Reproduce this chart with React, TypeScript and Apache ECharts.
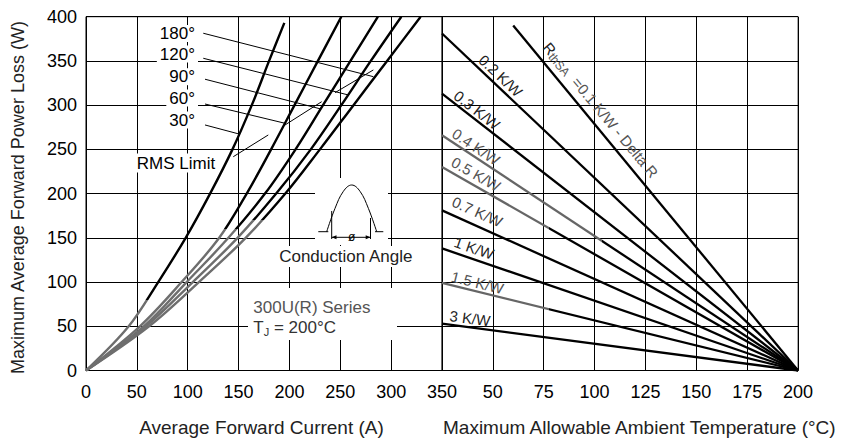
import React, { useEffect, useRef } from 'react';
import * as echarts from 'echarts';

// ---- Data ----
const currentTicks = [0, 50, 100, 150, 200, 250, 300, 350];
const tempTicks = [25, 50, 75, 100, 125, 150, 175, 200];
const powerTicks = [0, 50, 100, 150, 200, 250, 300, 350, 400];

const angleNames = ['30°', '60°', '90°', '120°', '180°'];
// [current (A), power (W)]
const curve30 = [[0, 0], [42, 50], [71, 100], [98, 150], [122, 200], [144, 250], [163, 300], [180, 350], [195, 393]];
const curve60 = [[0, 0], [53, 50], [94, 100], [131, 150], [158, 200], [182, 250], [205, 300], [228, 350], [251, 400]];
const curve90 = [[0, 0], [57, 50], [99, 100], [140, 150], [176, 200], [206, 250], [233, 300], [260, 350], [287, 400]];
const curve120 = [[0, 0], [59, 50], [105, 100], [149, 150], [187, 200], [221, 250], [251, 300], [280, 350], [310, 400]];
const curve180 = [[0, 0], [62, 50], [111, 100], [157, 150], [196, 200], [230, 250], [263, 300], [296, 350], [329, 400]];
const curves = [curve30, curve60, curve90, curve120, curve180];
// power level below which each curve is drawn grey in the reference
const greyBelow = [80, 160, 160, 170, 170];

// leader lines from angle labels to curves
const leader30 = [[117, 277.6], [150.4, 267.4]];
const leader60 = [[117, 301.3], [195.7, 279.5]];
const leader90 = [[117, 329.3], [230.8, 295.7]];
const leader120 = [[115.3, 353], [257.9, 311.5]];
const leader180 = [[115.3, 381.3], [282.5, 332.2]];
const leaders = [leader30, leader60, leader90, leader120, leader180];

// RMS limit (drawn in three pieces)
const rmsLimit1 = [[144.8, 241.7], [179.2, 266.3]];
const rmsLimit2 = [[195.7, 277.6], [231.7, 303.9]];
const rmsLimit3 = [[244.8, 314.1], [282.5, 339.8]];
const rmsPieces = [rmsLimit1, rmsLimit2, rmsLimit3];

// Heat sink thermal resistance lines: [ambient temp (°C), power (W)] start points; all end at (200, 0)
const rthNames = ['0.1', '0.2', '0.3', '0.4', '0.5', '0.7', '1', '1.5', '3'];
const rthStartTemp = [60, 25, 25, 25, 25, 25, 25, 25, 25];
const rthStartPower = [390, 381, 313, 266, 230, 181, 138, 99, 53];
const rthEnd = [200, 0];
// fraction of each line (from its left end) drawn grey in the reference
const rthGreyPart = [0, 0, 0, 0.45, 0.3, 0, 0, 0.3, 0];

const FONT = "'Liberation Sans', Arial, Helvetica, sans-serif";

function vGrad(fracTop: number) {
  return new echarts.graphic.LinearGradient(0, 0, 0, 1, [
    { offset: 0, color: '#000' },
    { offset: fracTop, color: '#000' },
    { offset: fracTop, color: '#6e6e6e' },
    { offset: 1, color: '#6e6e6e' },
  ]);
}
function hGrad(frac: number) {
  if (frac <= 0) return '#000';
  return new echarts.graphic.LinearGradient(0, 0, 1, 0, [
    { offset: 0, color: '#666' },
    { offset: frac, color: '#666' },
    { offset: frac, color: '#000' },
    { offset: 1, color: '#000' },
  ]);
}

function buildOption() {
  const series: any[] = [];
  curves.forEach((c, i) => {
    const top = c[c.length - 1][1];
    const frac = (top - greyBelow[i]) / top;
    series.push({
      type: 'line', name: angleNames[i], xAxisIndex: 0, yAxisIndex: 0,
      data: c, smooth: 0.35, symbol: 'none', silent: true,
      lineStyle: { color: vGrad(frac), width: 2.4 }, z: 3,
    });
  });
  leaders.forEach((l) => {
    series.push({
      type: 'line', xAxisIndex: 0, yAxisIndex: 0, data: l, symbol: 'none', silent: true,
      lineStyle: { color: '#000', width: 1 }, z: 3,
    });
  });
  rmsPieces.forEach((l) => {
    series.push({
      type: 'line', xAxisIndex: 0, yAxisIndex: 0, data: l, symbol: 'none', silent: true,
      lineStyle: { color: '#000', width: 1 }, z: 3,
    });
  });
  rthNames.forEach((n, i) => {
    series.push({
      type: 'line', name: n + ' K/W', xAxisIndex: 1, yAxisIndex: 1,
      data: [[rthStartTemp[i], rthStartPower[i]], rthEnd], symbol: 'none', silent: true,
      lineStyle: { color: hGrad(rthGreyPart[i]), width: 2.3 }, z: 3,
    });
  });

  const splitLine = { show: true, lineStyle: { color: '#000', width: 1 } };
  const axisLine = { show: true, lineStyle: { color: '#000', width: 1 } };
  const tickFont = { fontSize: 18, color: '#000', fontFamily: FONT };

  const txt = (text: string, x: number, y: number, extra: any = {}) => ({
    type: 'text', x, y, z: 1, silent: true,
    style: {
      text, fontSize: 17, fontFamily: FONT, fill: '#000',
      align: 'center', verticalAlign: 'middle', ...extra,
    },
  });

  const rotLabel = (text: string, x: number, y: number, deg: number, color: string) => ({
    type: 'text', x, y, rotation: -deg * Math.PI / 180, z: 4, silent: true,
    style: { text, fontSize: 15, fontFamily: FONT, fill: color, align: 'center', verticalAlign: 'middle' },
  });

  const sine = [
    [326.7, 231.7], [335, 208.4], [343.4, 191.3], [351.7, 185], [360, 191.3], [368.4, 208.4], [376.7, 231.7],
  ];

  const graphic: any[] = [
    // white patches behind annotations
    { type: 'rect', z: 1, silent: true, shape: { x: 315, y: 178, width: 73, height: 67 }, style: { fill: '#fff' } },
    { type: 'rect', z: 1, silent: true, shape: { x: 248, y: 288, width: 149, height: 52 }, style: { fill: '#fff' } },
    // angle labels
    txt('180°', 198, 33.5, { align: 'right', backgroundColor: '#fff', padding: [0, 3, 0, 3] }),
    txt('120°', 198, 54, { align: 'right', backgroundColor: '#fff', padding: [0, 3, 0, 3] }),
    txt('90°', 198, 76.7, { align: 'right', backgroundColor: '#fff', padding: [0, 3, 0, 3] }),
    txt('60°', 198, 98, { align: 'right', backgroundColor: '#fff', padding: [0, 3, 0, 3] }),
    txt('30°', 198, 120, { align: 'right', backgroundColor: '#fff', padding: [0, 3, 0, 3] }),
    txt('RMS Limit', 176, 163, { backgroundColor: '#fff', padding: [1, 2, 1, 2] }),
    // conduction angle sketch
    { type: 'polyline', z: 2, silent: true, shape: { points: sine, smooth: 0.4 }, style: { stroke: '#000', lineWidth: 1, fill: 'none' } },
    { type: 'line', z: 2, silent: true, shape: { x1: 318.3, y1: 231.7, x2: 328.3, y2: 231.7 }, style: { stroke: '#000', lineWidth: 1 } },
    { type: 'line', z: 2, silent: true, shape: { x1: 375, y1: 231.7, x2: 383.3, y2: 231.7 }, style: { stroke: '#000', lineWidth: 1 } },
    { type: 'line', z: 2, silent: true, shape: { x1: 331.7, y1: 211, x2: 331.7, y2: 239 }, style: { stroke: '#000', lineWidth: 1 } },
    { type: 'line', z: 2, silent: true, shape: { x1: 370.5, y1: 218, x2: 370.5, y2: 239 }, style: { stroke: '#000', lineWidth: 1 } },
    { type: 'line', z: 2, silent: true, shape: { x1: 331.7, y1: 237.3, x2: 370.5, y2: 237.3 }, style: { stroke: '#000', lineWidth: 1 } },
    { type: 'polygon', z: 2, silent: true, shape: { points: [[331.7, 237.3], [336.5, 235.3], [336.5, 239.3]] }, style: { fill: '#000' } },
    { type: 'polygon', z: 2, silent: true, shape: { points: [[370.5, 237.3], [365.7, 235.3], [365.7, 239.3]] }, style: { fill: '#000' } },
    txt('ø', 351.7, 236.5, { fontSize: 12, backgroundColor: '#fff', padding: [0, 1, 0, 1] }),
    txt('Conduction Angle', 345.8, 256.5, { fill: '#222', backgroundColor: '#fff', padding: [2, 2, 2, 2] }),
    txt('300U(R) Series', 253.3, 307.5, { align: 'left', fill: '#555' }),
    {
      type: 'text', x: 253.3, y: 327.5, z: 2, silent: true,
      style: {
        text: '{n|T}{s|J}{n| = 200°C}', align: 'left', verticalAlign: 'middle', fontFamily: FONT,
        rich: {
          n: { fontSize: 17, fontFamily: FONT, fill: '#333', color: '#333', lineHeight: 20, verticalAlign: 'middle' },
          s: { fontSize: 11, fontFamily: FONT, fill: '#333', color: '#333', verticalAlign: 'bottom' },
        },
      },
    },
    // right panel labels
    {
      type: 'text', x: 600.7, y: 110, rotation: -50.2 * Math.PI / 180, z: 4, silent: true,
      style: {
        text: '{r|R}{s|thSA}{g|  =0.1 K/W - Delta R}', align: 'center', verticalAlign: 'middle', fontFamily: FONT,
        rich: {
          r: { fontSize: 15, fontFamily: FONT, fill: '#222', color: '#222', lineHeight: 18, verticalAlign: 'middle' },
          s: { fontSize: 12, fontFamily: FONT, fill: '#555', color: '#555', verticalAlign: 'bottom' },
          g: { fontSize: 15, fontFamily: FONT, fill: '#555', color: '#555', verticalAlign: 'middle' },
        },
      },
    },
    rotLabel('0.2 K/W', 500.7, 75.7, 43.4, '#222'),
    rotLabel('0.3 K/W', 477, 110, 37.9, '#222'),
    rotLabel('0.4 K/W', 476, 146.7, 33.5, '#555'),
    rotLabel('0.5 K/W', 476, 174, 29.8, '#555'),
    rotLabel('0.7 K/W', 477.3, 211.7, 24.3, '#444'),
    rotLabel('1 K/W', 474, 248, 18.9, '#222'),
    rotLabel('1.5 K/W', 477.5, 282.5, 13.9, '#555'),
    rotLabel('3 K/W', 470, 318.3, 7.5, '#222'),
    // axis titles
    {
      type: 'text', x: 18, y: 197.5, rotation: Math.PI / 2, z: 2, silent: true,
      style: { text: 'Maximum Average Forward Power Loss (W)', fontSize: 18, fontFamily: FONT, fill: '#222', align: 'center', verticalAlign: 'middle' },
    },
    txt('Average Forward Current (A)', 261.5, 427, { fontSize: 19, fill: '#222' }),
    txt('Maximum Allowable Ambient Temperature (°C)', 443, 427, { fontSize: 19, fill: '#222', align: 'left' }),
  ];

  return {
    animation: false,
    backgroundColor: '#fff',
    grid: [
      { left: 86, top: 16.7, width: 356, height: 353.8, show: true, borderColor: '#000', borderWidth: 1, containLabel: false, outerBoundsMode: 'none' },
      { left: 442, top: 16.7, width: 356, height: 353.8, show: true, borderColor: '#555', borderWidth: 1, containLabel: false, outerBoundsMode: 'none' },
    ],
    xAxis: [
      {
        type: 'value', gridIndex: 0, min: currentTicks[0], max: currentTicks[currentTicks.length - 1], interval: 50,
        axisLine, axisTick: { show: false }, splitLine,
        axisLabel: { ...tickFont, margin: 12, showMaxLabel: true, showMinLabel: true },
      },
      {
        type: 'value', gridIndex: 1, min: tempTicks[0], max: tempTicks[tempTicks.length - 1], interval: 25,
        axisLine, axisTick: { show: false }, splitLine,
        axisLabel: { ...tickFont, margin: 12, showMaxLabel: true, formatter: (v: number) => (v === tempTicks[0] ? '' : String(v)) },
      },
    ],
    yAxis: [
      {
        type: 'value', gridIndex: 0, min: powerTicks[0], max: powerTicks[powerTicks.length - 1], interval: 50,
        axisLine, axisTick: { show: false }, splitLine,
        axisLabel: { ...tickFont, margin: 9 },
      },
      {
        type: 'value', gridIndex: 1, min: powerTicks[0], max: powerTicks[powerTicks.length - 1], interval: 50,
        axisLine: { show: false }, axisTick: { show: false }, splitLine,
        axisLabel: { show: false },
      },
    ],
    series,
    graphic: { elements: graphic },
  };
}

export default function App() {
  const ref = useRef<HTMLDivElement>(null);
  useEffect(() => {
    document.body.style.margin = '0';
    const chart = echarts.init(ref.current as HTMLDivElement, undefined, { renderer: 'svg' });
    chart.setOption(buildOption() as any);
    return () => chart.dispose();
  }, []);
  return <div ref={ref} style={{ width: 859, height: 441, position: 'absolute', left: 0, top: 0 }} />;
}
